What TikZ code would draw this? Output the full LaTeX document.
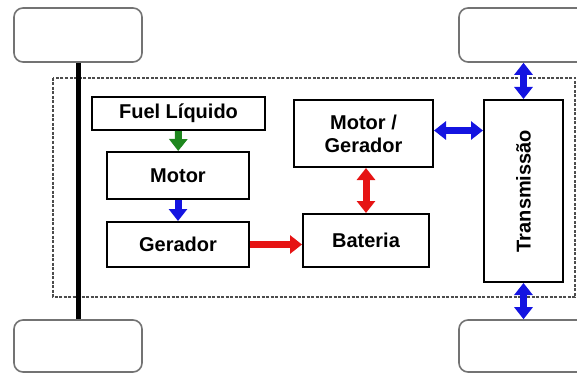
\documentclass[tikz,border=0pt]{standalone}
\usepackage{fontspec}
\setmainfont{Liberation Sans}
\usepackage{xcolor}
\usepackage{tikz}
\usetikzlibrary{arrows.meta,positioning,calc}
\definecolor{fuelgreen}{RGB}{30,135,30}
\definecolor{flowblue}{RGB}{20,20,225}
\definecolor{flowred}{RGB}{230,20,20}
\tikzset{
  box/.style={draw, line width=2pt, align=center, inner sep=2pt, fill=white,
    font=\fontsize{20}{23}\selectfont\bfseries},
  wheel/.style={draw=black!55, line width=1.6pt, rounded corners=9pt, minimum width=128pt, minimum height=54pt},
  frame/.style={draw=black!70, line width=2pt, dash pattern=on 3pt off 1.5pt},
  axle/.style={line width=5pt, black},
  flow/.style={line width=7pt, -{Triangle[length=12pt,width=18pt]}},
  flowboth/.style={line width=7pt, {Triangle[length=12pt,width=18pt]}-{Triangle[length=12pt,width=18pt]}}
}

\begin{document}
\begin{tikzpicture}[x=1pt, y=-1pt]
  \clip (0,0) rectangle (577,374);

  % chassis frame
  \draw[frame] (53,78) rectangle (575,297);

  % wheels
  \node[wheel] (wtl) at (78,35) {};
  \node[wheel] (wtr) at (523,35) {};
  \node[wheel, minimum height=52pt] (wbl) at (78,346) {};
  \node[wheel, minimum height=52pt] (wbr) at (523,346) {};
  \draw[axle] (wtl.south) -- (wbl.north);

  % blocks
  \node[box, minimum width=173pt, minimum height=33pt] (fuel) at (178.5,113.5) {Fuel Líquido};
  \node[box, minimum width=142pt, minimum height=47pt] (motor) at (178,175.5) {Motor};
  \node[box, minimum width=142pt, minimum height=45pt] (ger) at (178,244.5) {Gerador};
  \node[box, minimum width=126pt, minimum height=53pt] (bat) at (366,240.5) {Bateria};
  \node[box, minimum width=139pt, minimum height=67pt] (mg) at (363.5,133.5) {Motor /\\Gerador};
  \node[box, rotate=90, minimum width=182pt, minimum height=79pt] (trans) at (523.5,191) {Transmissão};

  % energy flows
  \draw[flow, fuelgreen] (fuel) -- (motor);
  \draw[flow, flowblue] (motor) -- (ger);
  \draw[flow, flowred] (ger.east) -- (ger.east -| bat.west);
  \draw[flowboth, flowred] (bat.north) -- (bat.north |- mg.south);
  \draw[flowboth, flowblue] ($(mg.east)+(0,-3)$) -- ($(mg.east -| trans.north)+(0,-3)$);
  \draw[flowboth, flowblue] (trans.east) -- (trans.east |- wtr.south);
  \draw[flowboth, flowblue] (trans.west) -- (trans.west |- wbr.north);
\end{tikzpicture}
\end{document}
